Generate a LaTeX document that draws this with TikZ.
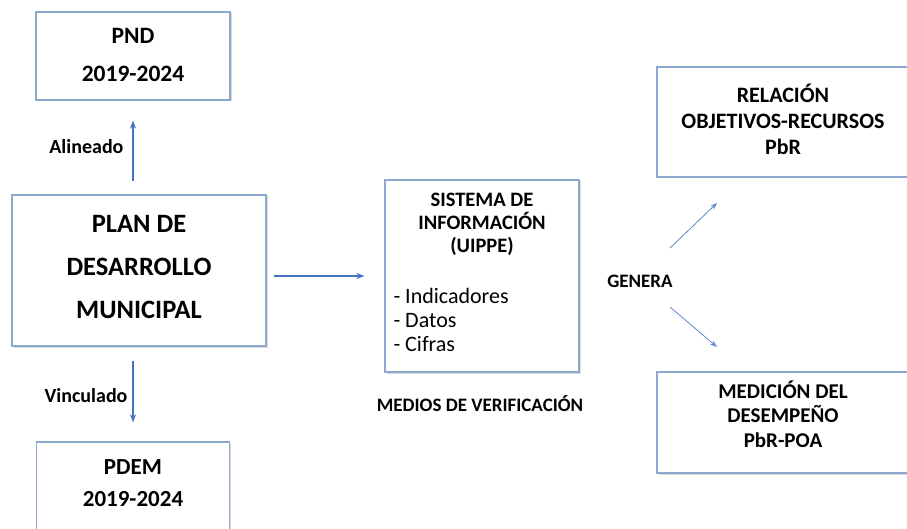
\documentclass[tikz,border=0pt]{standalone}
\usepackage{fontspec}
\setmainfont{Carlito}
\usetikzlibrary{arrows.meta, positioning, shadows}

\definecolor{boxline}{HTML}{8EA9D0}
\definecolor{arrowblue}{HTML}{4472C4}

\tikzset{
  planbox/.style={draw=boxline, line width=1.3pt, fill=white, inner sep=0pt,
    drop shadow={shadow xshift=1.5pt, shadow yshift=-1.5pt, opacity=0.15, fill=black}},
  flecha/.style={-{Stealth[length=8pt,width=6pt]}, draw=arrowblue, line width=1.6pt},
  flechafina/.style={-{Stealth[length=7pt,width=5pt]}, draw=arrowblue!85, line width=0.8pt},
  rotulo/.style={font={\bfseries\fontsize{20}{24}\selectfont}},
}

\begin{document}
\begin{tikzpicture}[x=1pt,y=-1pt]
\useasboundingbox (0,0) rectangle (907,529);
\clip (0,0) rectangle (907,529);

% left column
\node[planbox, minimum width=194pt, minimum height=88pt] (pnd) at (133,56) {};
\node[align=center, font={\bfseries\fontsize{23.5}{38}\selectfont}] (pndtxt) at (133,55) {PND\\2019-2024};

\node[planbox, minimum width=254pt, minimum height=151pt] (plan) at (139,270.5) {};
\node[align=center, font={\bfseries\fontsize{26.5}{43}\selectfont}] (plantxt) at (139,267) {PLAN DE\\DESARROLLO\\MUNICIPAL};

\node[planbox, minimum width=193pt, minimum height=110pt] (pdem) at (133,497) {};
\node[align=center, font={\bfseries\fontsize{23}{32}\selectfont}] (pdemtxt) at (133,483) {PDEM\\2019-2024};

\draw[flecha, shorten <=13pt, shorten >=20pt] (pnd.south |- plan.north) -- (pnd.south);
\node[rotulo, anchor=east] (alin) at (127,147) {Alineado};
\draw[flecha, shorten <=14pt, shorten >=19pt] (pdem.north |- plan.south) -- (pdem.north);
\node[rotulo, anchor=east] (vinc) at (131,396) {Vinculado};

% middle
\node[planbox, minimum width=194pt, minimum height=192pt] (sis) at (482,276) {};
\node[align=center, font={\bfseries\fontsize{20.5}{23}\selectfont}] (sistit) at (482,224) {SISTEMA DE\\INFORMACIÓN\\(UIPPE)};
\node[align=left, anchor=west, font={\fontsize{22}{24}\selectfont}] (sislist) at (390,320) {- Indicadores\\- Datos\\- Cifras};
\node[rotulo, font={\bfseries\fontsize{19}{22}\selectfont}] (medios) at (480,404) {MEDIOS DE VERIFICACIÓN};
\draw[flecha, shorten <=7pt, shorten >=20pt] (plan.east |- sis.west) -- (sis.west);

% right column
\node[rotulo, font={\bfseries\fontsize{19}{22}\selectfont}] (genera) at (640,281) {GENERA};
\node[planbox, minimum width=253pt, minimum height=110pt] (rel) at (783.5,122) {};
\node[align=center, font={\bfseries\fontsize{22}{26}\selectfont}] (reltxt) at (783,119) {RELACIÓN\\OBJETIVOS-RECURSOS\\PbR};
\node[planbox, minimum width=253pt, minimum height=101pt] (med) at (783.5,422.5) {};
\node[align=center, font={\bfseries\fontsize{21}{24.5}\selectfont}] (medtxt) at (783,414) {MEDICIÓN DEL\\DESEMPEÑO\\PbR-POA};

\coordinate (gen1) at (670,248);
\coordinate (gen2) at (717,203);
\coordinate (gen3) at (670,307);
\coordinate (gen4) at (717,347);
\draw[flechafina] (gen1) -- (gen2);
\draw[flechafina] (gen3) -- (gen4);
\end{tikzpicture}
\end{document}
